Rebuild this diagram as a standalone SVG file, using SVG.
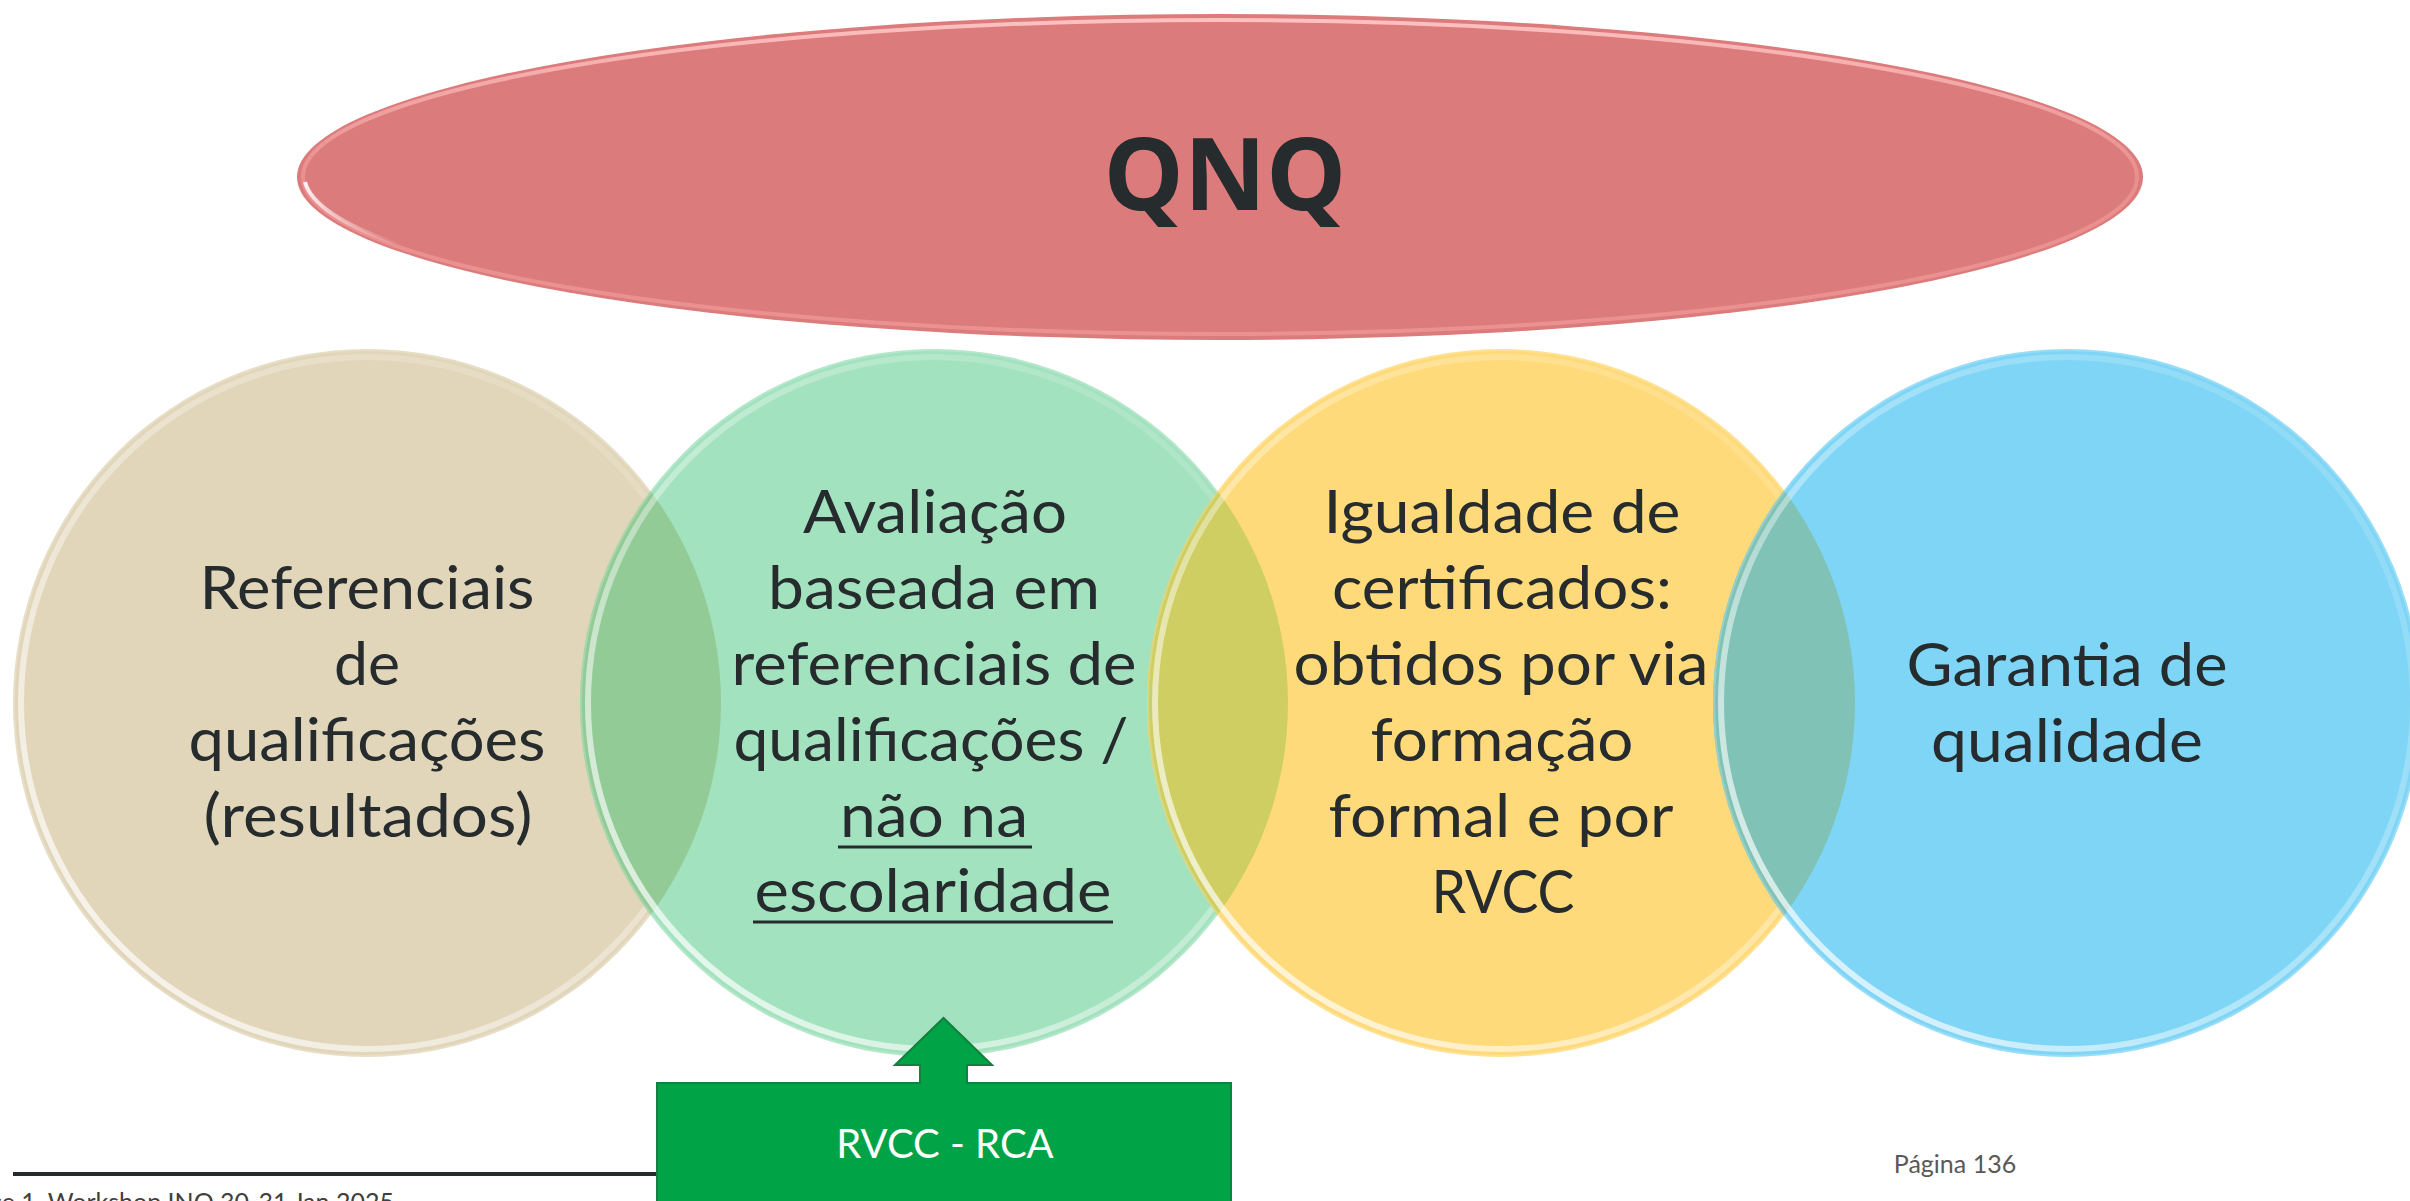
<svg xmlns="http://www.w3.org/2000/svg" width="2410" height="1201" viewBox="0 0 2410 1201">
  <defs>
    <style>
      .lbl { font-family: Lato, "Liberation Sans", sans-serif; font-size: 60px; fill: #262B2E; text-anchor: middle; }
      .title { font-family: "Open Sans", "Liberation Sans", sans-serif; font-weight: bold; font-size: 101px; fill: #262B2E; text-anchor: middle; }
      .ring { fill: none; stroke: url(#gloss); stroke-width: 6; }
      .rim { fill: none; stroke: #ffffff; stroke-opacity: 0.2; stroke-width: 2; }
      .ul { stroke: #262B2E; stroke-width: 3; }
      .btxt { font-family: Lato, "Liberation Sans", sans-serif; font-size: 40px; fill: #ffffff; text-anchor: middle; }
      .green { fill: #00A346; }
      .gstroke { fill: none; stroke: #12803E; stroke-width: 2; }
    </style>
    <linearGradient id="gloss" x1="0" y1="1" x2="1" y2="0">
      <stop offset="0" stop-color="#ffffff" stop-opacity="0.85"/>
      <stop offset="0.4" stop-color="#ffffff" stop-opacity="0.4"/>
      <stop offset="1" stop-color="#ffffff" stop-opacity="0.05"/>
    </linearGradient>
    <linearGradient id="egloss" x1="0" y1="0" x2="0" y2="1">
      <stop offset="0" stop-color="#FFC4C4" stop-opacity="0.95"/>
      <stop offset="0.5" stop-color="#F6A3A3" stop-opacity="0.5"/>
      <stop offset="1" stop-color="#F29A9A" stop-opacity="0.7"/>
    </linearGradient>
    <linearGradient id="lefthl" x1="0" y1="0" x2="1" y2="1">
      <stop offset="0" stop-color="#ffffff" stop-opacity="0.9"/>
      <stop offset="1" stop-color="#ffffff" stop-opacity="0"/>
    </linearGradient>
    <clipPath id="k1"><circle cx="367" cy="703" r="354"/></clipPath>
    <clipPath id="k2"><circle cx="934" cy="703" r="354"/></clipPath>
    <clipPath id="k3"><circle cx="1501" cy="703" r="354"/></clipPath>
  </defs>

  <rect width="2410" height="1201" fill="#ffffff"/>

  <!-- QNQ ellipse -->
  <g id="node-qnq">
    <ellipse cx="1220" cy="177" rx="923" ry="163" fill="#DC7B7B"/>
    <ellipse cx="1220" cy="177" rx="917" ry="157" fill="none" stroke="url(#egloss)" stroke-width="4"/>
    <path d="M 305 182 A 915 158 0 0 0 400 245" fill="none" stroke="url(#lefthl)" stroke-width="4"/>
    <text class="title" x="1225" y="210">QNQ</text>
  </g>

  <!-- Circle 1 -->
  <g id="node-referenciais">
    <circle cx="367" cy="703" r="354" fill="#E2D6BA"/>
    <circle class="ring" cx="367" cy="703" r="346"/>
    <circle class="rim" cx="367" cy="703" r="353"/>
    <text class="lbl" x="367" y="609" textLength="335" lengthAdjust="spacingAndGlyphs">Referenciais</text>
    <text class="lbl" x="367" y="685" textLength="66" lengthAdjust="spacingAndGlyphs">de</text>
    <text class="lbl" x="367" y="761" textLength="357" lengthAdjust="spacingAndGlyphs">qualificações</text>
    <text class="lbl" x="368" y="837" textLength="329" lengthAdjust="spacingAndGlyphs">(resultados)</text>
  </g>

  <!-- Circle 2 -->
  <g id="node-avaliacao">
    <circle cx="934" cy="703" r="354" fill="#A3E2BE"/>
    <circle cx="934" cy="703" r="354" fill="#93CB97" clip-path="url(#k1)"/>
    <circle class="ring" cx="934" cy="703" r="346"/>
    <circle class="rim" cx="934" cy="703" r="353"/>
    <text class="lbl" x="935" y="533" textLength="264" lengthAdjust="spacingAndGlyphs">Avaliação</text>
    <text class="lbl" x="934" y="609" textLength="332" lengthAdjust="spacingAndGlyphs">baseada em</text>
    <text class="lbl" x="934" y="685" textLength="405" lengthAdjust="spacingAndGlyphs">referenciais de</text>
    <text class="lbl" x="931" y="761" textLength="395" lengthAdjust="spacingAndGlyphs">qualificações /</text>
    <text class="lbl" x="934" y="837" textLength="188" lengthAdjust="spacingAndGlyphs">não na</text>
    <line class="ul" x1="838" y1="847" x2="1032" y2="847"/>
    <text class="lbl" x="933" y="912" textLength="357" lengthAdjust="spacingAndGlyphs">escolaridade</text>
    <line class="ul" x1="753" y1="922" x2="1113" y2="922"/>
  </g>

  <!-- Circle 3 -->
  <g id="node-igualdade">
    <circle cx="1501" cy="703" r="354" fill="#FFDA7A"/>
    <circle cx="1501" cy="703" r="354" fill="#CFCE62" clip-path="url(#k2)"/>
    <circle class="ring" cx="1501" cy="703" r="346"/>
    <circle class="rim" cx="1501" cy="703" r="353"/>
    <text class="lbl" x="1502" y="533" textLength="357" lengthAdjust="spacingAndGlyphs">Igualdade de</text>
    <text class="lbl" x="1502" y="609" textLength="340" lengthAdjust="spacingAndGlyphs">certificados:</text>
    <text class="lbl" x="1501" y="685" textLength="415" lengthAdjust="spacingAndGlyphs">obtidos por via</text>
    <text class="lbl" x="1502" y="761" textLength="263" lengthAdjust="spacingAndGlyphs">formação</text>
    <text class="lbl" x="1501" y="837" textLength="345" lengthAdjust="spacingAndGlyphs">formal e por</text>
    <text class="lbl" x="1503" y="913" textLength="143" lengthAdjust="spacingAndGlyphs">RVCC</text>
  </g>

  <!-- Circle 4 -->
  <g id="node-garantia">
    <circle cx="2067" cy="703" r="354" fill="#7FD5F5"/>
    <circle cx="2067" cy="703" r="354" fill="#80C3B6" clip-path="url(#k3)"/>
    <circle class="ring" cx="2067" cy="703" r="346"/>
    <circle class="rim" cx="2067" cy="703" r="353"/>
    <text class="lbl" x="2067" y="686" textLength="321" lengthAdjust="spacingAndGlyphs">Garantia de</text>
    <text class="lbl" x="2067" y="762" textLength="272" lengthAdjust="spacingAndGlyphs">qualidade</text>
  </g>

  <!-- Footer -->
  <g id="footer">
    <line x1="13" y1="1174" x2="660" y2="1174" stroke="#262B2E" stroke-width="4"/>
    <text x="-10" y="1211" font-family="Lato, 'Liberation Sans', sans-serif" font-size="25" fill="#404040">ce 1. Workshop INQ 30-31 Jan 2025</text>
    <text x="1955" y="1173" font-family="Lato, 'Noto Sans', sans-serif" font-size="25" fill="#595959" text-anchor="middle">Página 136</text>
  </g>

  <!-- RVCC - RCA box -->
  <g id="node-rvcc">
    <rect class="green" x="657" y="1083" width="574" height="140"/>
    <rect class="gstroke" x="657" y="1083" width="574" height="140"/>
    <text class="btxt" x="945" y="1158">RVCC - RCA</text>
  </g>

  <!-- Connectors -->
  <g id="connectors">
    <polygon class="green" points="920,1086 920,1065 895,1065 943.5,1018 992,1065 967,1065 967,1086"/>
    <polyline class="gstroke" points="920,1084 920,1065 895,1065 943.5,1018 992,1065 967,1065 967,1084"/>
  </g>
</svg>
